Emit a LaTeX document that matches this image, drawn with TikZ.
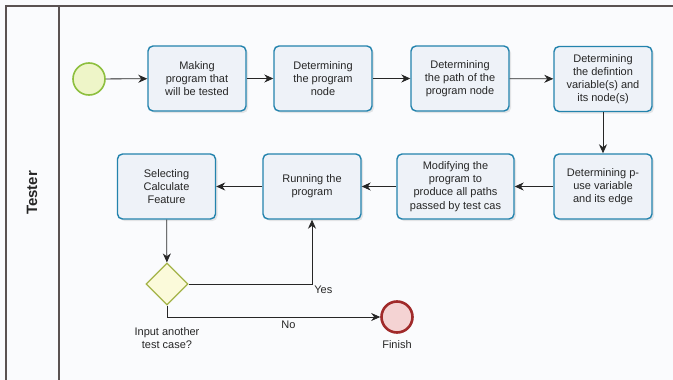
\documentclass[tikz,border=0pt]{standalone}
\usepackage{fontspec}
\setmainfont{Liberation Sans}
\usetikzlibrary{arrows.meta,shapes.geometric,shadows}
\definecolor{paper}{HTML}{FAFBFD}
\definecolor{laneline}{HTML}{5A5252}
\definecolor{taskline}{HTML}{2383AD}
\definecolor{taskfill}{HTML}{EEF2F8}
\definecolor{startline}{HTML}{8DBF3E}
\definecolor{startfill}{HTML}{EEF5C8}
\definecolor{gateline}{HTML}{A3B347}
\definecolor{gatefill}{HTML}{FBFADA}
\definecolor{endline}{HTML}{A02A2A}
\definecolor{endfill}{HTML}{F4D3D3}
\begin{document}
\begin{tikzpicture}[x=1pt,y=-1pt,every node/.style={font=\fontsize{11}{13.2}\selectfont,text=black!85},
  task/.style={draw=taskline,line width=1.4pt,fill=taskfill,rounded corners=5pt,
    minimum width=98pt,minimum height=65pt,align=center,inner sep=2pt,
    drop shadow={shadow xshift=2pt,shadow yshift=-2pt,opacity=0.18}},
  startev/.style={circle,draw=startline,line width=1.6pt,fill=startfill,minimum size=32pt},
  endev/.style={circle,draw=endline,line width=2.6pt,fill=endfill,minimum size=31pt},
  gate/.style={diamond,draw=gateline,line width=1.3pt,fill=gatefill,minimum width=42pt,minimum height=42pt,inner sep=0pt},
  flow/.style={-{Stealth[length=9pt,width=8pt]},line width=0.8pt,black!85},
  frame/.style={laneline,line width=1.4pt}]
% page and lane
\fill[paper] (0,0) rectangle (673,380);
\useasboundingbox (0,0) rectangle (673,380);
\draw[frame] (6,380) -- (6,6) -- (673,6);
\draw[frame] (59,6) -- (59,380);
\node[rotate=90,font=\bfseries\fontsize{15}{15}\selectfont] (lane) at (32,193) {Tester};
% first row
\node[startev] (start) at (89,79) {};
\node[task] (make) at (197,78.5) {Making\\program that\\will be tested};
\node[task] (prog) at (323,78.5) {Determining\\the program\\node};
\node[task] (path) at (460,78.5) {Determining\\the path of the\\program node};
\node[task] (defv) at (603,79) {Determining\\the defintion\\variable(s) and\\its node(s)};
% second row
\node[task] (puse) at (603,186.5) {Determining p-\\use variable\\and its edge};
\node[task,minimum width=117pt] (modi) at (455.5,186.5) {Modifying the\\program to\\produce all paths\\passed by test cas};
\node[task] (run) at (312,186.5) {Running the\\program};
\node[task] (sel) at (166.5,186.5) {Selecting\\Calculate\\Feature};
% decision and end
\node[gate] (gw) at (167,284) {};
\node[align=center] (gwlab) at (167,338) {Input another\\test case?};
\node[endev] (fin) at (397,317) {};
\node (finlab) at (397,345) {Finish};
% flows
\draw[flow] (start) -- (make);
\draw[flow] (make) -- (prog);
\draw[flow] (prog) -- (path);
\draw[flow] (path) -- (defv);
\draw[flow] (defv) -- (puse);
\draw[flow] (puse) -- (modi);
\draw[flow] (modi) -- (run);
\draw[flow] (run) -- (sel);
\draw[flow] (sel) -- (gw);
\draw[flow] (gw.east) -| node[pos=0.5,below right,inner sep=2pt] {Yes} (run.south);
\draw[flow] (gw.south) |- node[pos=0.785,below] {No} (fin.west);
\end{tikzpicture}
\end{document}
